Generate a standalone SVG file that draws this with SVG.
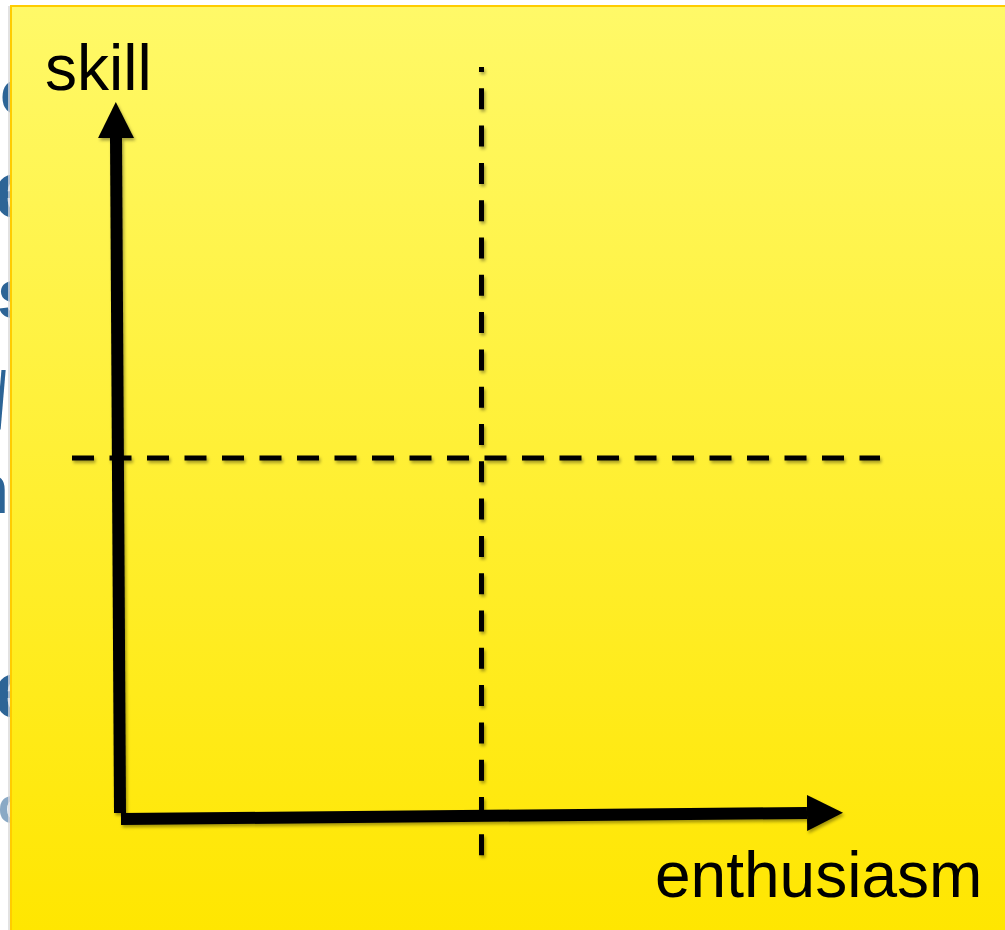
<svg xmlns="http://www.w3.org/2000/svg" width="1005" height="930" viewBox="0 0 1005 930">
  <style>
    .label { font-family: "Liberation Sans", Arial, sans-serif; font-size: 64px; fill: #000; }
    .behind { font-family: "Liberation Sans", Arial, sans-serif; font-weight: bold; fill: #2C6496; }
    .axis { fill: none; stroke: #000; stroke-width: 12; stroke-linecap: butt; }
    .dash { fill: none; stroke: #000; stroke-width: 5; }
  </style>
  <defs>
    <linearGradient id="bg" x1="0" y1="0" x2="0" y2="1">
      <stop offset="0" stop-color="#FFF968"/>
      <stop offset="1" stop-color="#FFE600"/>
    </linearGradient>
    <filter id="shadow" x="-10%" y="-10%" width="120%" height="120%">
      <feDropShadow dx="1.5" dy="2.5" stdDeviation="1.5" flood-color="#000" flood-opacity="0.35"/>
    </filter>
    <marker id="arrow" viewBox="0 0 36 36" refX="0" refY="18" markerWidth="36" markerHeight="36" markerUnits="userSpaceOnUse" orient="auto">
      <path d="M0,0 L36,18 L0,36 Z" fill="#000"/>
    </marker>
  </defs>

  <rect width="1005" height="930" fill="#FFFFFF"/>

  <g id="slide-text-behind">
    <text class="behind" x="0" y="114" font-size="64">c</text>
    <text class="behind" x="-7" y="217" font-size="80">e</text>
    <text class="behind" x="-3" y="318" font-size="70">s</text>
    <text class="behind" transform="translate(-4,428) scale(0.45,1)" x="0" y="0" font-size="80">/</text>
    <text class="behind" x="9" y="513" font-size="70" text-anchor="end">n</text>
    <text class="behind" x="-7" y="717" font-size="80">e</text>
    <text class="behind" x="-2" y="823" font-size="50" opacity="0.55">c</text>
  </g>

  <g id="panel">
    <line x1="9" y1="6" x2="9" y2="930" stroke="#D8D8D8" stroke-width="1.5"/>
    <rect x="11" y="6" width="1000" height="930" fill="url(#bg)" stroke="#FFCC00" stroke-width="2"/>
  </g>

  <g id="connectors" filter="url(#shadow)">
    <line id="quadrant-vertical" class="dash" x1="481.5" y1="67" x2="481.5" y2="858" stroke-dasharray="21 16.3" stroke-dashoffset="16"/>
    <line id="quadrant-horizontal" class="dash" x1="72" y1="458" x2="880" y2="458" stroke-dasharray="22 15.5"/>
    <line id="axis-skill" class="axis" x1="120" y1="813" x2="116" y2="138" marker-end="url(#arrow)"/>
    <line id="axis-enthusiasm" class="axis" x1="121" y1="819" x2="807" y2="813" marker-end="url(#arrow)"/>
  </g>

  <g id="label-skill">
    <text class="label" x="45" y="90">skill</text>
  </g>
  <g id="label-enthusiasm">
    <text class="label" x="655" y="897">enthusiasm</text>
  </g>
</svg>
